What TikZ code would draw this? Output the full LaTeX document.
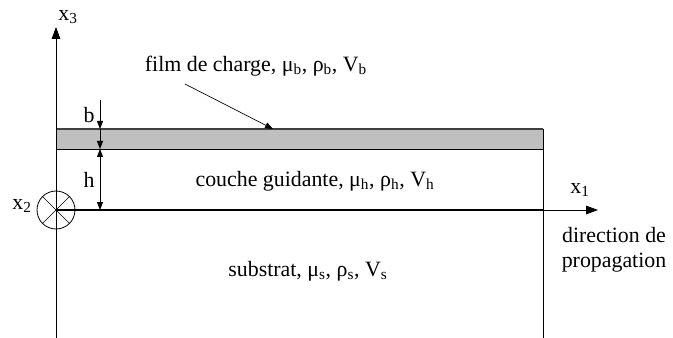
\documentclass[tikz,border=0pt]{standalone}
\usepackage{fontspec}
\setmainfont{Liberation Serif}
\usetikzlibrary{arrows.meta,positioning,calc}

\begin{document}
\begin{tikzpicture}[
    x=0.75pt, y=-0.75pt,
    lbl/.style={font=\fontsize{16.4}{19}\selectfont, inner sep=1pt},
    axis/.style={-{Triangle[length=9pt,width=6.5pt]}, line width=0.6pt},
    dim/.style={-{Triangle[length=6pt,width=4.5pt]}, line width=0.6pt}
]
    \useasboundingbox (0,0) rectangle (673,338);

    % layers
    \fill[gray!50] (56,129) rectangle (543,149);
    \draw[line width=0.9pt, black!75] (56,129) -- (543,129);
    \draw[line width=0.6pt] (56,149) -- (543,149);
    \draw[line width=0.6pt] (543,129) -- (543,338);
    \draw[line width=1.5pt] (56,210) -- (543,210);

    % axes
    \coordinate (O) at (56,210);
    \coordinate (x3tip) at (56,27);
    \coordinate (x1tip) at (598,210);
    \draw[axis] (56,338) -- (x3tip);
    \draw[axis] (543,210) -- (x1tip);
    \node[draw, circle, minimum size=28.5pt, inner sep=0pt, line width=0.6pt] (x2c) at (O) {};
    \draw[line width=0.5pt] (x2c.45) -- (x2c.225);
    \draw[line width=0.5pt] (x2c.135) -- (x2c.315);

    \node[lbl] (x3) at (68,17) {x\textsubscript{3}};
    \node[lbl] (x1) at (580,190) {x\textsubscript{1}};
    \node[lbl] (x2) at (22,206) {x\textsubscript{2}};
    \node[lbl, align=center] (dir) at (614,250) {direction de\\propagation};

    % thicknesses
    \coordinate (btop) at (100,100);
    \coordinate (b1) at (100,129);
    \coordinate (h1) at (100,149);
    \coordinate (h2) at (100,210);
    \draw[dim] (btop) -- (b1);
    \draw[dim] (b1) -- (h1);
    \draw[dim, {Triangle[length=6pt,width=4.5pt]}-{Triangle[length=6pt,width=4.5pt]}] (h1) -- (h2);
    \node[lbl] (b) at (89,115) {b};
    \node[lbl] (h) at (89,180) {h};

    % layer labels
    \node[lbl] (film) at (256,66) {film de charge, μ\textsubscript{b}, ρ\textsubscript{b}, V\textsubscript{b}};
    \coordinate (filmtip) at (273,129);
    \draw[dim, line width=0.5pt] (185,84) -- (filmtip);
    \node[lbl] (couche) at (315,181) {couche guidante, μ\textsubscript{h}, ρ\textsubscript{h}, V\textsubscript{h}};
    \node[lbl] (substrat) at (308,271) {substrat, μ\textsubscript{s}, ρ\textsubscript{s}, V\textsubscript{s}};
\end{tikzpicture}
\end{document}
